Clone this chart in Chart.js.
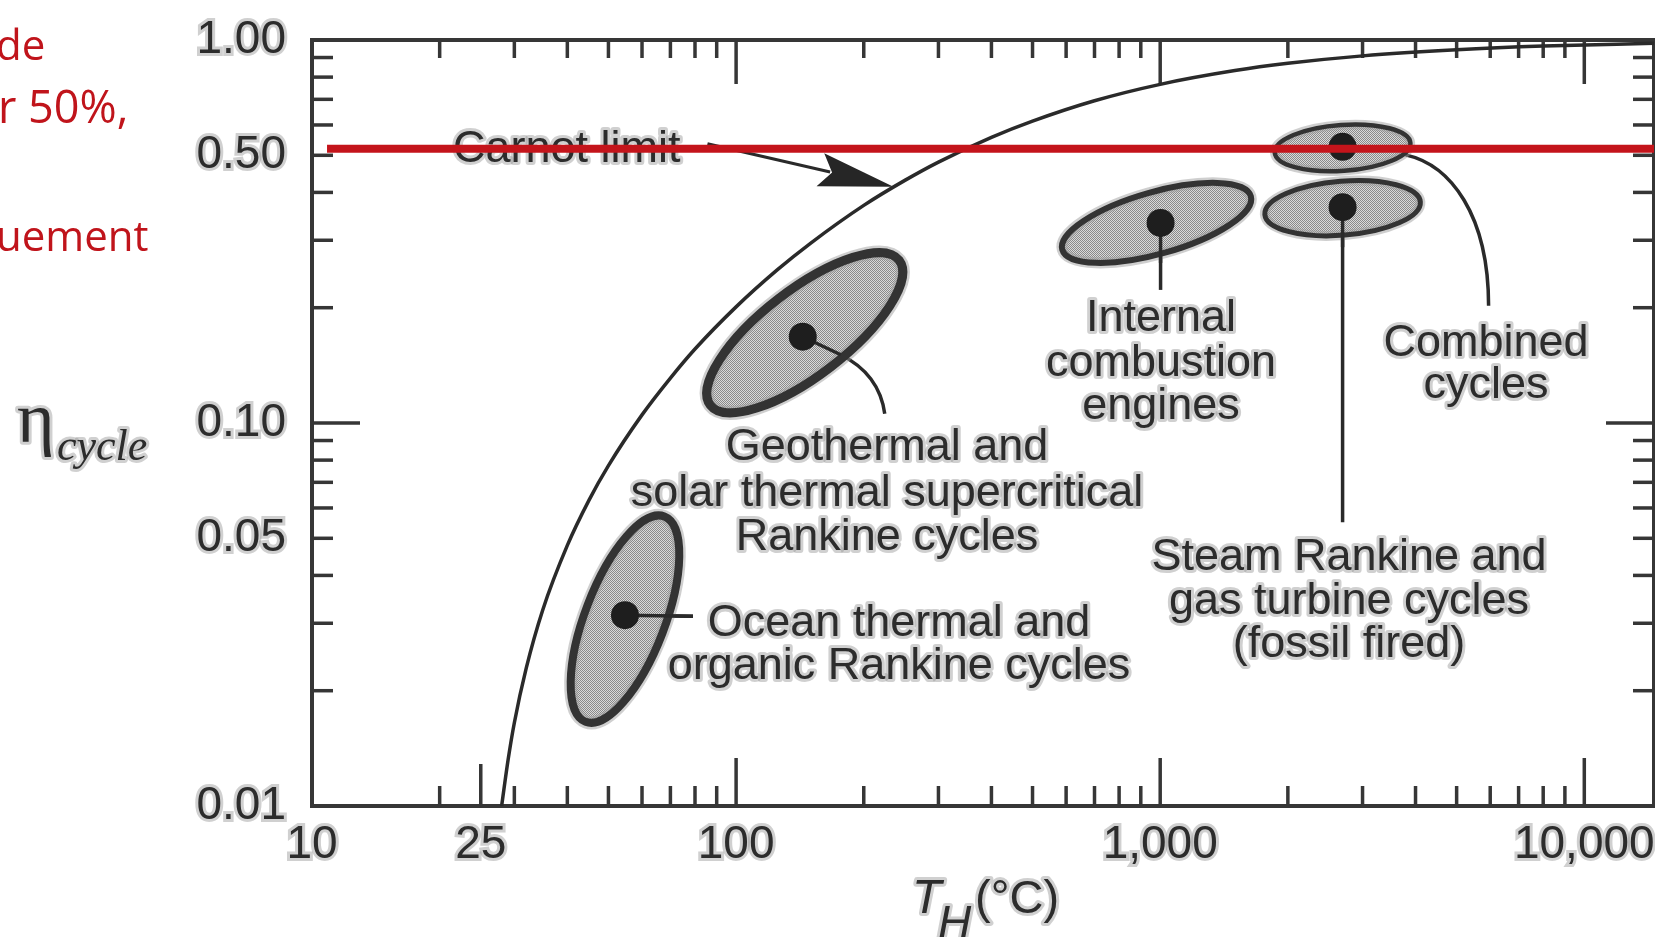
<!DOCTYPE html>
<html>
<head>
<meta charset="utf-8">
<script src="https://cdn.jsdelivr.net/npm/chart.js@4.4.1/dist/chart.umd.min.js"></script>
<style>
  html, body { margin: 0; padding: 0; background: #fff; }
  #wrap { position: relative; width: 1655px; height: 937px; overflow: hidden; }
  canvas { display: block; }
</style>
</head>
<body>
<div id="wrap"><canvas id="cycleChart" width="1655" height="937"></canvas></div>
<script>
// Carnot limit (T_H in degC, cycle efficiency)
const carnotT   = [28.0, 29, 30, 32, 35, 40, 45, 50, 60, 70, 80, 100, 125, 150, 200, 250, 300, 400, 500, 700, 1000, 1500, 2000, 3000, 5000, 8000, 14600];
const carnotEta = [0.0100, 0.0132, 0.0165, 0.0229, 0.0325, 0.0479, 0.0629, 0.0774, 0.105, 0.131, 0.156, 0.201, 0.251, 0.295, 0.370, 0.430, 0.480, 0.557, 0.614, 0.694, 0.766, 0.832, 0.869, 0.909, 0.943, 0.964, 0.980];

// typical operating point of each cycle family (dot in the middle of each region)
const cycleNames = ['Ocean thermal', 'Geothermal', 'Internal combustion', 'Steam Rankine', 'Combined'];
const cycleT     = [54.7, 143.6, 1002, 2692, 2692];
const cycleEta   = [0.0315, 0.168, 0.333, 0.366, 0.526];

// red 50 % line added on the slide
const redLineT   = [10.85, 14600];
const redLineEta = [0.52, 0.52];

// where the "Carnot limit" arrow points
const arrowT = 235;
const arrowEta = 0.414;

// axis ticks
const xTickValues = [10, 25, 100, 1000, 10000];
const xTickLabels = ['10', '25', '100', '1,000', '10,000'];
const yTickValues = [0.01, 0.05, 0.1, 0.5, 1];
const yTickLabels = ['0.01', '0.05', '0.10', '0.50', '1.00'];
const xMinorTicks = [20, 30, 40, 50, 60, 70, 80, 90, 200, 300, 400, 500, 600, 700, 800, 900, 2000, 3000, 4000, 5000, 6000, 7000, 8000, 9000];
const xMajorTicks = [100, 1000, 10000];
const yMinorTicks = [0.02, 0.03, 0.04, 0.05, 0.06, 0.07, 0.08, 0.09, 0.2, 0.3, 0.4, 0.5, 0.6, 0.7, 0.8, 0.9];
const yMajorTicks = [0.1];

// shapes of the shaded regions round each dot (pixels, degrees)
const regionShapes = [
  { dx: 0,  dy: 4,  rx: 110, ry: 40, rot: -69,   lw: 8 },
  { dx: 2,  dy: -4, rx: 119, ry: 43, rot: -37.5, lw: 9 },
  { dx: -4, dy: 0,  rx: 98,  ry: 31, rot: -15.8, lw: 6 },
  { dx: 0,  dy: 1,  rx: 78,  ry: 27, rot: -4.6,  lw: 5 },
  { dx: 0,  dy: 1,  rx: 68,  ry: 23, rot: -4,    lw: 4.5 }
];

const INK = '#2c2c2c';
const HALO = 'rgba(150,150,150,0.45)';
const SANS = '"Liberation Sans", Arial, sans-serif';

function haloText(ctx, str, x, y, font, align) {
  ctx.font = font;
  ctx.textAlign = align || 'center';
  ctx.textBaseline = 'alphabetic';
  ctx.lineJoin = 'round';
  ctx.strokeStyle = HALO;
  ctx.lineWidth = 6;
  ctx.strokeText(str, x, y);
  ctx.fillStyle = INK;
  ctx.fillText(str, x, y);
}

function line(ctx, x1, y1, x2, y2) {
  ctx.beginPath();
  ctx.moveTo(x1, y1);
  ctx.lineTo(x2, y2);
  ctx.stroke();
}

const canvas = document.getElementById('cycleChart');
const ctx = canvas.getContext('2d');

// halftone-like fill for the regions
const pc = document.createElement('canvas');
pc.width = 2; pc.height = 2;
const pctx = pc.getContext('2d');
pctx.fillStyle = '#dadada'; pctx.fillRect(0, 0, 2, 2);
pctx.fillStyle = '#8a8a8a'; pctx.fillRect(0, 0, 1, 1); pctx.fillRect(1, 1, 1, 1);
const stipple = ctx.createPattern(pc, 'repeat');

const figurePlugin = {
  id: 'figure',
  beforeDatasetsDraw(chart) {
    const { ctx, chartArea: a, scales: { x, y } } = chart;
    ctx.save();

    // frame
    ctx.strokeStyle = '#363636';
    ctx.lineWidth = 4;
    ctx.strokeRect(a.left, a.top, a.right - a.left, a.bottom - a.top);

    // inward ticks on all four sides
    ctx.lineWidth = 3.5;
    xMinorTicks.forEach(v => {
      const px = x.getPixelForValue(v);
      line(ctx, px, a.bottom, px, a.bottom - 20);
      line(ctx, px, a.top, px, a.top + 18);
    });
    xMajorTicks.forEach(v => {
      const px = x.getPixelForValue(v);
      line(ctx, px, a.bottom, px, a.bottom - 48);
      line(ctx, px, a.top, px, a.top + 44);
    });
    const p25 = x.getPixelForValue(25);
    line(ctx, p25, a.bottom, p25, a.bottom - 42);
    yMinorTicks.forEach(v => {
      const py = y.getPixelForValue(v);
      line(ctx, a.left, py, a.left + 21, py);
      line(ctx, a.right, py, a.right - 21, py);
    });
    yMajorTicks.forEach(v => {
      const py = y.getPixelForValue(v);
      line(ctx, a.left, py, a.left + 48, py);
      line(ctx, a.right, py, a.right - 48, py);
    });

    // leader lines from the dots
    const dots = cycleT.map((t, i) => ({ x: x.getPixelForValue(t), y: y.getPixelForValue(cycleEta[i]) }));
    ctx.strokeStyle = '#2a2a2a';
    ctx.lineWidth = 3.5;
    let d = dots[0];
    line(ctx, d.x, d.y, d.x + 68, d.y + 1);
    d = dots[1];
    ctx.beginPath();
    ctx.moveTo(d.x, d.y);
    ctx.lineTo(d.x + 38, d.y + 18);
    ctx.bezierCurveTo(d.x + 60, d.y + 29, d.x + 78, d.y + 48, d.x + 82, d.y + 77);
    ctx.stroke();
    d = dots[2];
    line(ctx, d.x, d.y, d.x, d.y + 67);
    d = dots[3];
    line(ctx, d.x, d.y, d.x, d.y + 315);
    d = dots[4];
    ctx.beginPath();
    ctx.moveTo(d.x + 63, d.y + 8);
    ctx.bezierCurveTo(d.x + 108, d.y + 18, d.x + 146, d.y + 68, d.x + 146, d.y + 159);
    ctx.stroke();

    // shaded regions
    regionShapes.forEach((s, i) => {
      const cx = dots[i].x + s.dx, cy = dots[i].y + s.dy;
      ctx.beginPath();
      ctx.ellipse(cx, cy, s.rx, s.ry, s.rot * Math.PI / 180, 0, Math.PI * 2);
      ctx.fillStyle = stipple;
      ctx.fill();
      ctx.strokeStyle = 'rgba(160,160,160,0.5)';
      ctx.lineWidth = s.lw + 5;
      ctx.stroke();
      ctx.strokeStyle = '#333';
      ctx.lineWidth = s.lw;
      ctx.stroke();
    });
    // the short stubs inside the regions, drawn over the fill
    ctx.strokeStyle = '#2a2a2a';
    ctx.lineWidth = 3.5;
    line(ctx, dots[0].x, dots[0].y, dots[0].x + 68, dots[0].y + 1);
    line(ctx, dots[1].x, dots[1].y, dots[1].x + 38, dots[1].y + 18);
    line(ctx, dots[2].x, dots[2].y, dots[2].x, dots[2].y + 40);
    line(ctx, dots[3].x, dots[3].y, dots[3].x, dots[3].y + 40);

    // Carnot limit arrow
    const tipX = x.getPixelForValue(arrowT), tipY = y.getPixelForValue(arrowEta);
    const tailX = tipX - 186, tailY = tipY - 43;
    const len = Math.hypot(tipX - tailX, tipY - tailY);
    const ux = (tipX - tailX) / len, uy = (tipY - tailY) / len;
    const bx = tipX - ux * 75, by = tipY - uy * 75;
    ctx.lineWidth = 3;
    line(ctx, tailX, tailY, bx + ux * 10, by + uy * 10);
    ctx.fillStyle = '#262626';
    ctx.beginPath();
    ctx.moveTo(tipX, tipY);
    ctx.lineTo(bx - uy * 17, by + ux * 17);
    ctx.lineTo(bx + ux * 12, by + uy * 12);
    ctx.lineTo(bx + uy * 17, by - ux * 17);
    ctx.closePath();
    ctx.fill();

    // annotations
    const f = '45px ' + SANS;
    haloText(ctx, 'Carnot limit', 453, 162, f, 'left');
    haloText(ctx, 'Internal', 1161, 331, f);
    haloText(ctx, 'combustion', 1161, 376, f);
    haloText(ctx, 'engines', 1161, 419, f);
    haloText(ctx, 'Combined', 1486, 356, f);
    haloText(ctx, 'cycles', 1486, 398, f);
    haloText(ctx, 'Geothermal and', 887, 460, f);
    haloText(ctx, 'solar thermal supercritical', 887, 506, f);
    haloText(ctx, 'Rankine cycles', 887, 550, f);
    haloText(ctx, 'Steam Rankine and', 1349, 570, f);
    haloText(ctx, 'gas turbine cycles', 1349, 614, f);
    haloText(ctx, '(fossil fired)', 1349, 657, f);
    haloText(ctx, 'Ocean thermal and', 899, 636, f);
    haloText(ctx, 'organic Rankine cycles', 899, 679, f);

    ctx.restore();
  },
  afterDraw(chart) {
    const { ctx } = chart;
    ctx.save();
    // axis titles
    haloText(ctx, 'η', 17, 442, '72px "Liberation Serif", serif', 'left');
    haloText(ctx, 'cycle', 57, 460, 'italic 44px "Liberation Serif", serif', 'left');
    haloText(ctx, 'T', 912, 913, 'italic 48px ' + SANS, 'left');
    haloText(ctx, 'H', 938, 938, 'italic 46px ' + SANS, 'left');
    haloText(ctx, '(°C)', 975, 913, '47px ' + SANS, 'left');

    // leftover slide text in the top-left corner
    ctx.fillStyle = '#c0141b';
    ctx.textAlign = 'left';
    ctx.textBaseline = 'alphabetic';
    ctx.font = '42px "Open Sans", "Noto Sans", sans-serif';
    ctx.fillText('de', -4, 60);
    ctx.fillText('uement', -4, 251);
    ctx.font = '45px "Open Sans", "Noto Sans", sans-serif';
    ctx.fillText('r 50%,', -2, 123);
    ctx.restore();
  }
};

const chart = new Chart(ctx, {
  type: 'line',
  data: {
    datasets: [
      {
        label: 'Carnot limit',
        data: carnotT.map((t, i) => ({ x: t, y: carnotEta[i] })),
        borderColor: '#2a2a2a',
        borderWidth: 3.5,
        pointRadius: 0,
        cubicInterpolationMode: 'monotone',
        order: 3
      },
      {
        label: 'Cycles',
        type: 'scatter',
        data: cycleT.map((t, i) => ({ x: t, y: cycleEta[i] })),
        pointRadius: 14,
        pointBackgroundColor: '#1e1e1e',
        pointBorderWidth: 0,
        showLine: false,
        order: 2
      },
      {
        label: '50%',
        data: redLineT.map((t, i) => ({ x: t, y: redLineEta[i] })),
        borderColor: '#c4141b',
        borderWidth: 8,
        pointRadius: 0,
        order: 1
      }
    ]
  },
  options: {
    responsive: false,
    animation: false,
    devicePixelRatio: 1,
    layout: { autoPadding: false, padding: { left: 0, right: 1, top: 40, bottom: 0 } },
    plugins: { legend: { display: false }, tooltip: { enabled: false } },
    scales: {
      x: {
        type: 'logarithmic',
        min: 10,
        max: 14600,
        grid: { display: false, drawTicks: false },
        border: { display: false },
        afterBuildTicks: s => { s.ticks = xTickValues.map(v => ({ value: v })); },
        afterFit: s => { s.height = 131; s.paddingLeft = 0; s.paddingRight = 0; },
        ticks: {
          autoSkip: false,
          maxRotation: 0,
          padding: 12,
          color: INK,
          textStrokeColor: HALO,
          textStrokeWidth: 6,
          font: { family: SANS, size: 46 },
          callback: (v, i) => xTickLabels[i]
        }
      },
      y: {
        type: 'logarithmic',
        min: 0.01,
        max: 1,
        grid: { display: false, drawTicks: false },
        border: { display: false },
        afterBuildTicks: s => { s.ticks = yTickValues.map(v => ({ value: v })); },
        afterFit: s => { s.width = 312; s.paddingTop = 0; s.paddingBottom = 0; },
        ticks: {
          autoSkip: false,
          padding: 26,
          color: INK,
          textStrokeColor: HALO,
          textStrokeWidth: 6,
          font: { family: SANS, size: 46 },
          callback: (v, i) => yTickLabels[i]
        }
      }
    }
  },
  plugins: [figurePlugin]
});
</script>
</body>
</html>
